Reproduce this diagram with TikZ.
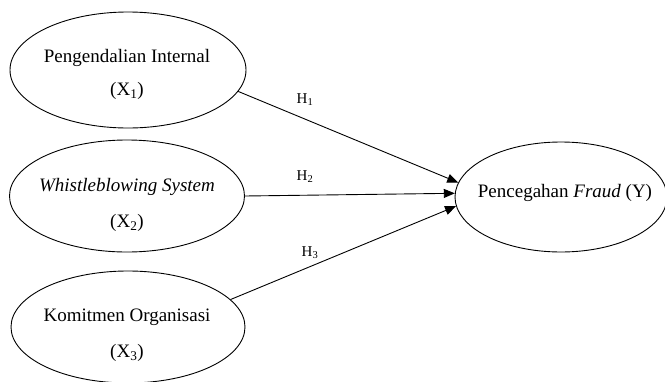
\documentclass[tikz,border=0pt]{standalone}
\usepackage{fontspec}
\setmainfont{Liberation Serif}
\usetikzlibrary{shapes.geometric,arrows.meta}
\begin{document}
\begin{tikzpicture}[x=1pt,y=-1pt,
  var/.style={draw,ellipse,line width=0.9pt,inner sep=0pt},
  lbl/.style={font=\fontsize{19}{22}\selectfont,inner sep=0pt},
  hyp/.style={font=\fontsize{15}{17}\selectfont,inner sep=0pt},
  link/.style={line width=0.9pt,-{Triangle[length=11pt,width=9pt]}}]
\useasboundingbox (0,0) rectangle (665,381);
\node[var,minimum width=236pt,minimum height=116pt] (e1) at (128,70) {};
\node[var,minimum width=235pt,minimum height=112pt] (e2) at (127,196) {};
\node[var,minimum width=234pt,minimum height=112pt] (e3) at (128,327) {};
\node[var,minimum width=212pt,minimum height=110pt] (y) at (561,197) {};
\node[lbl] (t1a) at (127,58) {Pengendalian Internal};
\node[lbl] (t1b) at (127,91) {(X\textsubscript{1})};
\node[lbl] (t2a) at (127,187) {\textit{Whistleblowing System}};
\node[lbl] (t2b) at (127,223) {(X\textsubscript{2})};
\node[lbl] (t3a) at (127,317) {Komitmen Organisasi};
\node[lbl] (t3b) at (127,353) {(X\textsubscript{3})};
\node[lbl] (ty) at (565,193) {Pencegahan \textit{Fraud} (Y)};
\draw[link] (e1.-11) -- (y.172.5);
\draw[link] (e2.0) -- (y.178);
\draw[link] (e3.15) -- (y.185);
\node[hyp] (h1) at (305,100) {H\textsubscript{1}};
\node[hyp] (h2) at (305,177) {H\textsubscript{2}};
\node[hyp] (h3) at (310,253) {H\textsubscript{3}};
\end{tikzpicture}
\end{document}
